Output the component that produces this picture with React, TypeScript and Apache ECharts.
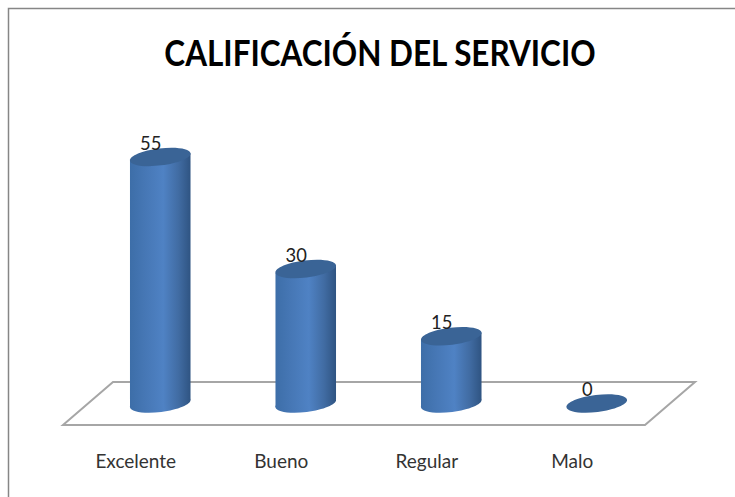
import React, { useEffect, useRef } from "react";
import * as echarts from "echarts";

const titleText = "CALIFICACIÓN DEL SERVICIO";
const categories = ["Excelente", "Bueno", "Regular", "Malo"];
const values = [55, 30, 15, 0];

const FONT = "Lato";
const RX = 30.5;
const RY = 8.5;
const TILT = 7;
const DEPTH = 24.5;

const bodyFill = {
  type: "linear",
  x: 0,
  y: 0,
  x2: 1,
  y2: 0,
  colorStops: [
    { offset: 0, color: "#3d6ea8" },
    { offset: 0.25, color: "#4677b5" },
    { offset: 0.55, color: "#4f82c4" },
    { offset: 0.8, color: "#416ca3" },
    { offset: 1, color: "#2f5482" },
  ],
};

function renderCylinder(_params: any, api: any) {
  const idx = api.value(0);
  const val = api.value(1);
  const [x, yTop] = api.coord([idx, val]);
  const [, yBase] = api.coord([idx, 0]);
  const cx = x + DEPTH;
  const t = (TILT * Math.PI) / 180;
  const dx = RX * Math.cos(t);
  const dy = RX * Math.sin(t);
  const children: any[] = [];
  if (val > 0) {
    children.push({
      type: "ellipse",
      x: cx,
      y: yBase,
      rotation: t,
      shape: { cx: 0, cy: 0, rx: RX, ry: RY },
      style: { fill: bodyFill },
    });
    children.push({
      type: "polygon",
      shape: {
        points: [
          [cx - dx, yTop + dy],
          [cx + dx, yTop - dy],
          [cx + dx, yBase - dy],
          [cx - dx, yBase + dy],
        ],
      },
      style: { fill: bodyFill },
    });
  }
  children.push({
    type: "ellipse",
    x: cx,
    y: yTop,
    rotation: t,
    shape: { cx: 0, cy: 0, rx: RX, ry: RY },
    style: { fill: "#3a6496" },
  });
  children.push({
    type: "text",
    x: cx - 9.5,
    y: yTop - 15,
    scaleX: 0.92,
    style: {
      text: String(val),
      fill: "#222222",
      font: `20px ${FONT}`,
      align: "center",
      verticalAlign: "middle",
    },
  });
  return { type: "group", children };
}

export default function App() {
  const ref = useRef<HTMLDivElement>(null);
  useEffect(() => {
    const chart = echarts.init(ref.current!, null, { renderer: "svg" });
    chart.setOption({
      animation: false,
      backgroundColor: "#ffffff",
      grid: { left: 63, right: 90, top: 134.5, bottom: 93.5 },
      xAxis: {
        type: "category",
        data: categories,
        axisLine: { show: false },
        axisTick: { show: false },
        axisLabel: { margin: 47, fontFamily: FONT, fontSize: 19, color: "#333333" },
      },
      yAxis: { type: "value", min: 0, max: 60, show: false },
      graphic: [
        {
          type: "polyline",
          silent: true,
          z: 0,
          shape: { points: [[8.5, 497], [8.5, 8.5], [735, 8.5]] },
          style: { stroke: "#868686", lineWidth: 1.5, fill: "none" },
        },
        {
          type: "polygon",
          silent: true,
          z: 0,
          shape: { points: [[63, 425], [645, 425], [695, 382], [113, 382]] },
          style: { stroke: "#a6a6a6", lineWidth: 2, fill: "#ffffff" },
        },
        {
          type: "text",
          silent: true,
          z: 1,
          x: 380,
          y: 51,
          scaleX: 0.85,
          style: {
            text: titleText,
            fill: "#000000",
            font: `bold 37px ${FONT}`,
            align: "center",
            verticalAlign: "middle",
          },
        },
      ],
      series: [
        {
          type: "custom",
          clip: false,
          z: 5,
          data: values.map((v, i) => [i, v]),
          encode: { x: 0, y: 1 },
          renderItem: renderCylinder,
        },
      ],
    });
    return () => chart.dispose();
  }, []);
  return (
    <div
      ref={ref}
      style={{ position: "fixed", left: 0, top: 0, width: 735, height: 497 }}
    />
  );
}
